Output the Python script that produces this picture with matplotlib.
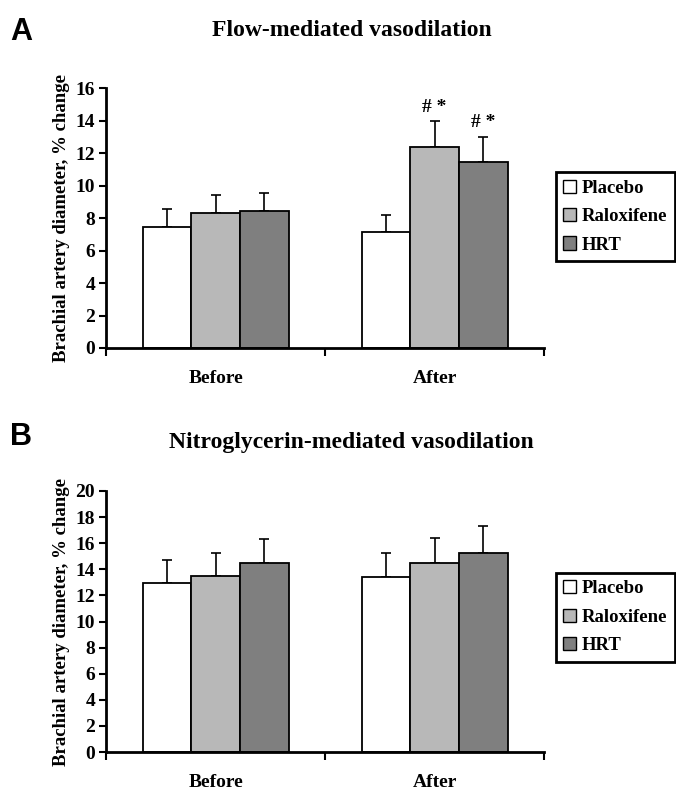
import numpy as np
from matplotlib import pyplot as plt
from matplotlib.patches import Patch

groups = ["Before", "After"]
treatments = ["Placebo", "Raloxifene", "HRT"]
colors = ["#ffffff", "#b8b8b8", "#7f7f7f"]

# panel A, flow-mediated vasodilation (mean and top of error bar)
fmd_mean = {"Placebo": [7.45, 7.15], "Raloxifene": [8.3, 12.35], "HRT": [8.45, 11.45]}
fmd_top = {"Placebo": [8.55, 8.2], "Raloxifene": [9.4, 13.95], "HRT": [9.55, 13.0]}
fmd_marks = {"Raloxifene": [None, "# *"], "HRT": [None, "# *"]}

# panel B, nitroglycerin-mediated vasodilation
ntg_mean = {"Placebo": [12.95, 13.4], "Raloxifene": [13.45, 14.5], "HRT": [14.45, 15.25]}
ntg_top = {"Placebo": [14.75, 15.25], "Raloxifene": [15.25, 16.4], "HRT": [16.3, 17.3]}

serif = "Liberation Serif"
sans = "Liberation Sans"

fig = plt.figure(figsize=(6.76, 7.90), dpi=100)


def draw_panel(rect, means, tops, ymax, title, letter, title_y, letter_y, legend_y, marks=None):
    ax = fig.add_axes(rect)
    x = np.arange(len(groups))
    width = 0.222

    for i, name in enumerate(treatments):
        pos = x + (i - 1) * width
        m = np.array(means[name])
        err = np.array(tops[name]) - m
        ax.bar(pos, m, width, color=colors[i], edgecolor="black", linewidth=1.3, zorder=2)
        ax.errorbar(pos, m, yerr=[np.zeros(len(m)), err], fmt="none", ecolor="black",
                    elinewidth=1.2, capsize=3.5, capthick=1.2, zorder=1)
        if marks and name in marks:
            for j, t in enumerate(marks[name]):
                if t:
                    ax.text(pos[j], tops[name][j] + 0.35, t, ha="center", va="bottom",
                            family=serif, weight="bold", fontsize=14)

    ax.set_xlim(-0.5, 1.5)
    ax.set_ylim(0, ymax)
    ax.set_yticks(np.arange(0, ymax + 1, 2))
    ax.set_xticks([-0.5, 0.5, 1.5])
    ax.set_xticklabels([])
    ax.set_xticks(x, minor=True)
    ax.set_xticklabels(groups, minor=True)
    ax.tick_params(axis="x", which="minor", length=0, pad=16)
    ax.tick_params(axis="x", which="major", length=6, width=1.5, direction="out")
    ax.tick_params(axis="y", length=5, width=1.5, direction="out", pad=3)
    for lab in ax.get_xticklabels(minor=True) + ax.get_yticklabels():
        lab.set_family(serif)
        lab.set_fontweight("bold")
        lab.set_fontsize(14)
    for s in ["top", "right"]:
        ax.spines[s].set_visible(False)
    for s in ["left", "bottom"]:
        ax.spines[s].set_linewidth(2)

    ax.set_ylabel("Brachial artery diameter, % change", family=serif, weight="bold",
                  fontsize=13.5, labelpad=4)

    fig.text(0.52, title_y, title, ha="center", va="center", family=serif,
             weight="bold", fontsize=17)
    fig.text(0.015, letter_y, letter, ha="left", va="center", family=sans,
             weight="bold", fontsize=22)

    handles = [Patch(facecolor=c, edgecolor="black", linewidth=1) for c in colors]
    leg = fig.legend(handles, treatments, loc="upper left", bbox_to_anchor=(0.822, legend_y),
                     prop={"family": serif, "weight": "bold", "size": 13.5},
                     handlelength=0.7, handleheight=0.7, handletextpad=0.3,
                     labelspacing=0.6, borderpad=0.4, borderaxespad=0, fancybox=False,
                     edgecolor="black", framealpha=1)
    leg.get_frame().set_linewidth(2)
    return ax


draw_panel([0.157, 0.5595, 0.648, 0.329], fmd_mean, fmd_top, 16,
           "Flow-mediated vasodilation", "A", 0.961, 0.96, 0.782, marks=fmd_marks)
draw_panel([0.157, 0.048, 0.648, 0.3305], ntg_mean, ntg_top, 20,
           "Nitroglycerin-mediated vasodilation", "B", 0.44, 0.447, 0.275)

fig.savefig("out.png", dpi=100)
